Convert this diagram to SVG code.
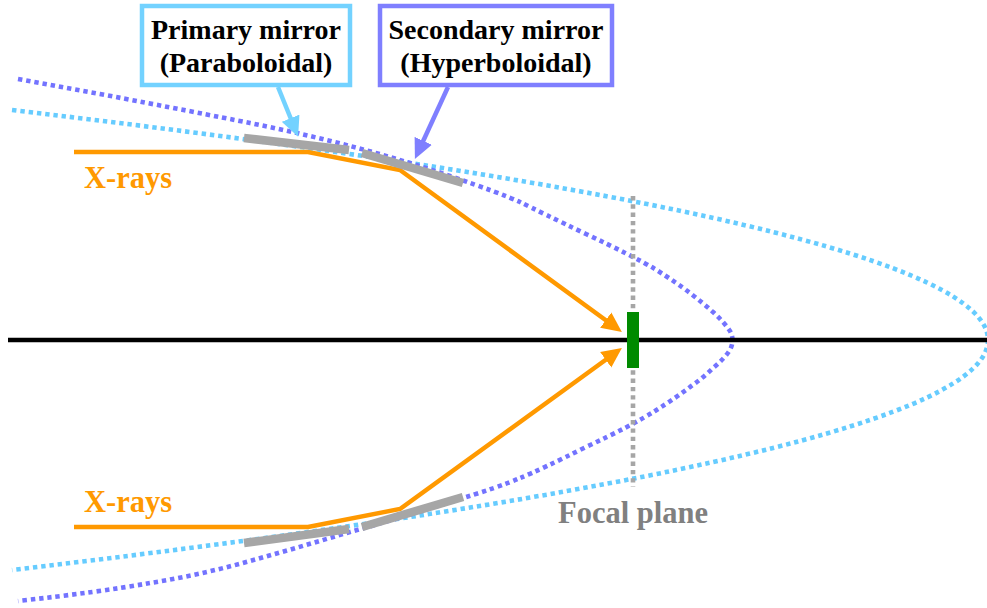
<svg xmlns="http://www.w3.org/2000/svg" width="987" height="608" viewBox="0 0 987 608">
  <style>
    text { font-family: "Liberation Serif", "Times New Roman", serif; font-weight: bold; }
    .curve { fill: none; stroke-width: 4.6; stroke-dasharray: 4.4 3.9; }
    .mirror { fill: none; stroke: #a6a6a6; stroke-width: 8.5; }
    .ray { fill: none; stroke: #ff9900; stroke-width: 4.5; }
    .box { fill: #ffffff; stroke-width: 4.5; }
    .label { text-anchor: middle; fill: #000000; font-size: 28px; }
    .xray { fill: #ff9900; font-size: 30.5px; }
    .focal { fill: #808080; font-size: 30.5px; }
  </style>
  <defs>
    <marker id="headOrange" markerUnits="userSpaceOnUse" markerWidth="21" markerHeight="20" refX="9" refY="10" orient="auto">
      <path d="M0 0.5L20 10L0 19.5Z" fill="#ff9900"/>
    </marker>
    <marker id="headCyan" markerUnits="userSpaceOnUse" markerWidth="21" markerHeight="20" refX="9" refY="10" orient="auto">
      <path d="M0 0.5L20 10L0 19.5Z" fill="#73d2ff"/>
    </marker>
    <marker id="headBlue" markerUnits="userSpaceOnUse" markerWidth="21" markerHeight="20" refX="9" refY="10" orient="auto">
      <path d="M0 0.5L20 10L0 19.5Z" fill="#7f7fff"/>
    </marker>
  </defs>
  <g id="connectors">
    <path id="paraboloid" class="curve" stroke="#66ccff" d="M12 110Q1964 340 12 570"/>
    <path id="hyperboloid" class="curve" stroke="#7373ff" d="M18 79L100 94Q200 113 250 123Q300 133 350 146Q400 159 450 176Q500 193 520 202Q540 212 586 234Q633 256 655 269Q677 283 690 293Q703 303 713 312Q724 322 730 331Q735 340 730 350Q724 359 713 368Q703 378 690 387Q677 397 655 411Q633 425 586 447Q540 470 520 478Q500 487 450 502Q400 518 350 532Q300 547 250 561Q200 575 150 583Q100 592 18 601"/>
    <line id="focal-plane-line" x1="633" y1="196" x2="633" y2="487" stroke="#a6a6a6" stroke-width="4.6" stroke-dasharray="4.4 3.9"/>
    <line id="axis" x1="8" y1="340" x2="987" y2="340" stroke="#000000" stroke-width="4.5"/>
    <path id="ray-top" class="ray" d="M74 152H308L400 170L613 325.5" marker-end="url(#headOrange)"/>
    <path id="ray-bottom" class="ray" d="M74 527H308L400 509L613 354.5" marker-end="url(#headOrange)"/>
    <line id="arrow-primary" x1="278" y1="87" x2="294" y2="126.5" stroke="#73d2ff" stroke-width="4.5" marker-end="url(#headCyan)"/>
    <line id="arrow-secondary" x1="448" y1="87" x2="419.5" y2="149" stroke="#7f7fff" stroke-width="4.5" marker-end="url(#headBlue)"/>
  </g>
  <g id="mirrors">
    <line class="mirror" x1="244" y1="138" x2="349" y2="150"/>
    <line class="mirror" x1="362" y1="153" x2="463" y2="183"/>
    <line class="mirror" x1="244" y1="543" x2="349" y2="529"/>
    <line class="mirror" x1="362" y1="527" x2="463" y2="497"/>
  </g>
  <g id="detector"><rect x="627" y="312" width="12" height="56" fill="#008a00"/></g>
  <g id="primary-mirror">
    <rect class="box" x="142" y="6" width="208" height="79" stroke="#73d2ff"/>
    <text class="label" x="246" y="39">Primary mirror</text>
    <text class="label" x="246" y="72">(Paraboloidal)</text>
  </g>
  <g id="secondary-mirror">
    <rect class="box" x="380" y="6" width="232" height="79" stroke="#7f7fff"/>
    <text class="label" x="496" y="39">Secondary mirror</text>
    <text class="label" x="496" y="72">(Hyperboloidal)</text>
  </g>
  <g id="xrays-top"><text class="xray" x="84" y="188">X-rays</text></g>
  <g id="xrays-bottom"><text class="xray" x="84" y="512">X-rays</text></g>
  <g id="focal-plane"><text class="focal" x="558" y="523">Focal plane</text></g>
</svg>
